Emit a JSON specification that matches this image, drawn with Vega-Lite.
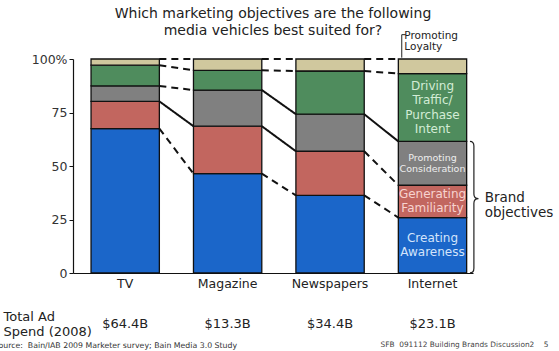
{
  "$schema": "https://vega.github.io/schema/vega-lite/v6.json",
  "width": 400,
  "height": 214,
  "autosize": "none",
  "padding": {"left": 73, "top": 59, "right": 86, "bottom": 78},
  "background": "white",
  "config": {
    "view": {"stroke": null},
    "font": "DejaVu Sans",
    "axisX": {
      "labelAngle": 0, "labelFontSize": 12.5, "labelColor": "#222", "labelPadding": 4,
      "ticks": false, "domainColor": "#111", "domainWidth": 1.2,
      "titleFontSize": 7.8, "titleFontWeight": "normal", "titleColor": "#333",
      "titleAlign": "left", "titleBaseline": "middle", "titleX": -80, "titleY": 72
    }
  },
  "title": {
    "text": ["Which marketing objectives are the following", "media vehicles best suited for?"],
    "frame": "group", "anchor": "middle", "baseline": "bottom", "offset": -21,
    "fontSize": 14, "fontWeight": "normal", "color": "#222", "lineHeight": 17, "font": "DejaVu Sans"
  },
  "data": {
    "values": [
      {"media": "TV", "objective": "Creating Awareness", "level": 1, "share": 67.5, "emphasis": "weak"},
      {"media": "TV", "objective": "Generating Familiarity", "level": 2, "share": 12.7, "emphasis": "strong"},
      {"media": "TV", "objective": "Promoting Consideration", "level": 3, "share": 7.2, "emphasis": "weak"},
      {"media": "TV", "objective": "Driving Traffic/ Purchase Intent", "level": 4, "share": 9.7, "emphasis": "weak"},
      {"media": "TV", "objective": "Promoting Loyalty", "level": 5, "share": 2.9, "emphasis": "weak"},
      {"media": "Magazine", "objective": "Creating Awareness", "level": 1, "share": 46.4, "emphasis": "weak"},
      {"media": "Magazine", "objective": "Generating Familiarity", "level": 2, "share": 22.2, "emphasis": "strong"},
      {"media": "Magazine", "objective": "Promoting Consideration", "level": 3, "share": 16.9, "emphasis": "strong"},
      {"media": "Magazine", "objective": "Driving Traffic/ Purchase Intent", "level": 4, "share": 9.2, "emphasis": "weak"},
      {"media": "Magazine", "objective": "Promoting Loyalty", "level": 5, "share": 5.3, "emphasis": "weak"},
      {"media": "Newspapers", "objective": "Creating Awareness", "level": 1, "share": 36.3, "emphasis": "weak"},
      {"media": "Newspapers", "objective": "Generating Familiarity", "level": 2, "share": 20.6, "emphasis": "weak"},
      {"media": "Newspapers", "objective": "Promoting Consideration", "level": 3, "share": 17.3, "emphasis": "strong"},
      {"media": "Newspapers", "objective": "Driving Traffic/ Purchase Intent", "level": 4, "share": 20.2, "emphasis": "weak"},
      {"media": "Newspapers", "objective": "Promoting Loyalty", "level": 5, "share": 5.6, "emphasis": "weak"},
      {"media": "Internet", "objective": "Creating Awareness", "level": 1, "share": 25.9, "emphasis": "weak"},
      {"media": "Internet", "objective": "Generating Familiarity", "level": 2, "share": 15.1, "emphasis": "weak"},
      {"media": "Internet", "objective": "Promoting Consideration", "level": 3, "share": 20.5, "emphasis": "weak"},
      {"media": "Internet", "objective": "Driving Traffic/ Purchase Intent", "level": 4, "share": 31.7, "emphasis": "weak"},
      {"media": "Internet", "objective": "Promoting Loyalty", "level": 5, "share": 6.8, "emphasis": "weak"}
    ]
  },
  "transform": [
    {"stack": "share", "groupby": ["media"], "sort": [{"field": "level", "order": "ascending"}], "as": ["y0", "y1"]}
  ],
  "resolve": {"axis": {"y": "independent"}},
  "layer": [
    {
      "mark": {"type": "bar", "stroke": "#111", "strokeWidth": 1.3},
      "encoding": {
        "x": {
          "field": "media", "type": "nominal",
          "scale": {"domain": ["TV", "Magazine", "Newspapers", "Internet"], "paddingInner": 0.333, "paddingOuter": 0.119, "align": 0.74},
          "title": "Source:\u00a0 Bain/IAB 2009 Marketer survey; Bain Media 3.0 Study"
        },
        "y": {
          "field": "y0", "type": "quantitative",
          "scale": {"domain": [0, 100], "nice": false},
          "axis": {
            "values": [0, 25, 50, 75, 100],
            "labelExpr": "datum.value == 100 ? '100%' : datum.label",
            "labelFontSize": 12.5, "labelColor": "#333", "labelPadding": 2,
            "tickColor": "#111", "tickSize": 4, "domainColor": "#111", "domainWidth": 1.2, "grid": false,
            "title": ["Total Ad", "Spend (2008)"], "titleAngle": 0, "titleAlign": "left", "titleBaseline": "top",
            "titleX": -70, "titleY": 251, "titleFontSize": 13, "titleFontWeight": "normal", "titleColor": "#222", "titleLineHeight": 15
          }
        },
        "y2": {"field": "y1"},
        "color": {
          "field": "objective", "type": "nominal",
          "scale": {
            "domain": ["Creating Awareness", "Generating Familiarity", "Promoting Consideration", "Driving Traffic/ Purchase Intent", "Promoting Loyalty"],
            "range": ["#1b66c9", "#c2665f", "#808080", "#4f8c5d", "#d0c89e"]
          },
          "legend": null
        }
      }
    },
    {
      "transform": [
        {"calculate": "indexof(['TV','Magazine','Newspapers','Internet'], datum.media)", "as": "mi"},
        {"window": [{"op": "lead", "field": "y1", "as": "nextY"}, {"op": "lead", "field": "media", "as": "nextMedia"}], "groupby": ["objective"], "sort": [{"field": "mi", "order": "ascending"}]},
        {"filter": "datum.nextMedia != null"}
      ],
      "mark": {"type": "rule", "strokeWidth": 2, "color": "#111"},
      "encoding": {
        "x": {"field": "media", "type": "nominal", "bandPosition": 1, "title": "Source:\u00a0 Bain/IAB 2009 Marketer survey; Bain Media 3.0 Study"},
        "x2": {"field": "nextMedia", "bandPosition": 0},
        "y": {"field": "y1", "type": "quantitative", "axis": null},
        "y2": {"field": "nextY"},
        "strokeDash": {"field": "emphasis", "type": "nominal", "scale": {"domain": ["strong", "weak"], "range": [[1, 0], [7, 5]]}, "legend": null}
      }
    },
    {
      "transform": [
        {"filter": "datum.media == 'Internet' && (datum.level == 1 || datum.level == 2)"},
        {"calculate": "(datum.y0 + datum.y1) / 2", "as": "mid"}
      ],
      "mark": {"type": "text", "fontSize": 12, "lineHeight": 14, "lineBreak": " ", "align": "center", "baseline": "middle", "dy": -7, "font": "DejaVu Sans"},
      "encoding": {
        "x": {"field": "media", "type": "nominal", "title": "Source:\u00a0 Bain/IAB 2009 Marketer survey; Bain Media 3.0 Study"},
        "y": {"field": "mid", "type": "quantitative", "axis": null},
        "text": {"field": "objective"},
        "fill": {
          "field": "objective", "type": "nominal",
          "scale": {"domain": ["Creating Awareness", "Generating Familiarity", "Driving Traffic/ Purchase Intent"], "range": ["#d3e4fb", "#f7d3cf", "#d3ecd6"]},
          "legend": null
        }
      }
    },
    {
      "transform": [
        {"filter": "datum.media == 'Internet' && datum.level == 4"},
        {"calculate": "(datum.y0 + datum.y1) / 2", "as": "mid"}
      ],
      "mark": {"type": "text", "fontSize": 12, "lineHeight": 14.2, "lineBreak": " ", "align": "center", "baseline": "middle", "dy": -21.3, "font": "DejaVu Sans"},
      "encoding": {
        "x": {"field": "media", "type": "nominal", "title": "Source:\u00a0 Bain/IAB 2009 Marketer survey; Bain Media 3.0 Study"},
        "y": {"field": "mid", "type": "quantitative", "axis": null},
        "text": {"field": "objective"},
        "fill": {"field": "objective", "type": "nominal", "legend": null}
      }
    },
    {
      "transform": [
        {"filter": "datum.media == 'Internet' && datum.level == 3"},
        {"calculate": "(datum.y0 + datum.y1) / 2", "as": "mid"}
      ],
      "mark": {"type": "text", "fontSize": 9.5, "lineHeight": 11.5, "lineBreak": " ", "align": "center", "baseline": "middle", "dy": -5.7, "color": "#eeeeee", "font": "DejaVu Sans"},
      "encoding": {
        "x": {"field": "media", "type": "nominal", "title": "Source:\u00a0 Bain/IAB 2009 Marketer survey; Bain Media 3.0 Study"},
        "y": {"field": "mid", "type": "quantitative", "axis": null},
        "text": {"field": "objective"}
      }
    },
    {
      "transform": [{"filter": "datum.media == 'Internet' && datum.level == 5"}],
      "mark": {"type": "text", "fontSize": 10.5, "lineHeight": 11, "lineBreak": " ", "align": "left", "baseline": "middle", "dx": 6, "color": "#222", "font": "DejaVu Sans"},
      "encoding": {
        "x": {"field": "media", "type": "nominal", "bandPosition": 0, "title": "Source:\u00a0 Bain/IAB 2009 Marketer survey; Bain Media 3.0 Study"},
        "y": {"datum": 110.7, "type": "quantitative", "axis": null},
        "text": {"field": "objective"}
      }
    },
    {
      "transform": [{"filter": "datum.media == 'Internet' && datum.level == 5"}],
      "mark": {"type": "point", "shape": "M0,1 L0,-1 L0.35,-1", "size": 529, "filled": false, "stroke": "#222", "strokeWidth": 1, "opacity": 1},
      "encoding": {
        "x": {"field": "media", "type": "nominal", "bandPosition": 0.05, "title": "Source:\u00a0 Bain/IAB 2009 Marketer survey; Bain Media 3.0 Study"},
        "y": {"datum": 106, "type": "quantitative", "axis": null}
      }
    },
    {
      "transform": [{"filter": "datum.media == 'Internet' && datum.level == 1"}],
      "mark": {"type": "point", "shape": "M0.05,-1 Q0.11,-1 0.11,-0.93 L0.11,-0.2 Q0.11,-0.13 0.18,-0.13 Q0.11,-0.13 0.11,-0.06 L0.11,0.93 Q0.11,1 0.05,1", "size": 17300, "filled": false, "stroke": "#222", "strokeWidth": 1.2, "opacity": 1},
      "encoding": {
        "x": {"field": "media", "type": "nominal", "bandPosition": 1, "title": "Source:\u00a0 Bain/IAB 2009 Marketer survey; Bain Media 3.0 Study"},
        "y": {
          "datum": 30.75, "type": "quantitative",
          "axis": {
            "orient": "right", "labels": false, "ticks": false, "domain": false, "grid": false,
            "title": "SFB\u00a0 091112 Building Brands Discussion2\u00a0\u00a0\u00a0 5", "titleAngle": 0, "titleAlign": "left", "titleBaseline": "middle",
            "titleX": -93, "titleY": 285, "titleFontSize": 7.4, "titleFontWeight": "normal", "titleColor": "#444"
          }
        }
      }
    },
    {
      "data": {"values": [{"media": "Internet", "group": "Brand objectives"}]},
      "mark": {"type": "text", "fontSize": 13.5, "lineHeight": 15, "lineBreak": " ", "align": "left", "baseline": "middle", "dx": 18, "color": "#222", "font": "DejaVu Sans"},
      "encoding": {
        "x": {"field": "media", "type": "nominal", "bandPosition": 1, "title": "Source:\u00a0 Bain/IAB 2009 Marketer survey; Bain Media 3.0 Study"},
        "y": {"datum": 35, "type": "quantitative", "axis": null},
        "text": {"field": "group"}
      }
    },
    {
      "data": {"values": [
        {"media": "TV", "spend": 64.4},
        {"media": "Magazine", "spend": 13.3},
        {"media": "Newspapers", "spend": 34.4},
        {"media": "Internet", "spend": 23.1}
      ]},
      "transform": [{"calculate": "'$' + format(datum.spend, '.1f') + 'B'", "as": "label"}],
      "mark": {"type": "text", "fontSize": 13, "align": "center", "baseline": "middle", "color": "#222", "font": "DejaVu Sans"},
      "encoding": {
        "x": {"field": "media", "type": "nominal", "title": "Source:\u00a0 Bain/IAB 2009 Marketer survey; Bain Media 3.0 Study"},
        "y": {"datum": -24, "type": "quantitative", "axis": null},
        "text": {"field": "label"}
      }
    }
  ]
}
